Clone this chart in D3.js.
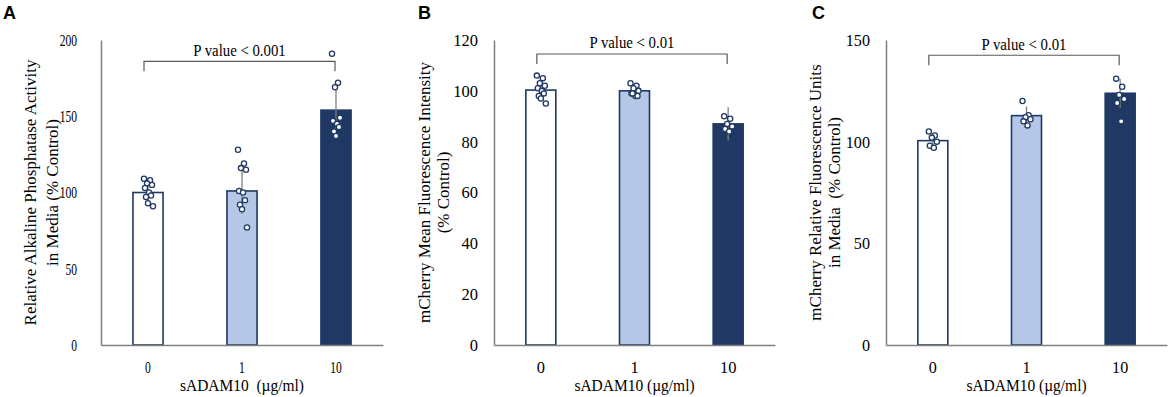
<!DOCTYPE html>
<html>
<head>
<meta charset="utf-8">
<script src="https://cdn.jsdelivr.net/npm/d3@7"></script>
<style>
  body { margin: 0; background: #fff; }
  text { white-space: pre; }
</style>
</head>
<body>
<div id="chart"></div>
<script>
// categories (sADAM10 dose)
const doses = ["0", "1", "10"];

// A: alkaline phosphatase
const meanA = [100, 101, 154];
const sdA = [6, 15, 18];
const ptsA = [
    [109, 108, 106, 105, 103, 100, 98, 97, 93, 91],
    [128, 119, 116, 115, 101, 100, 95, 92, 89, 77],
    [191, 172, 169, 149, 147, 145, 143, 140, 137]
];
const ticksA = [0, 50, 100, 150, 200];

// B: mCherry MFI
const meanB = [100.3, 100, 87];
const sdB = [4, 2, 6.5];
const ptsB = [
    [106, 105, 103, 102, 101, 100, 99, 98, 97, 95],
    [103, 102, 101, 100, 99, 98, 98, 99],
    [90, 89, 87, 86, 85, 84]
];
const ticksB = [0, 20, 40, 60, 80, 100, 120];

// C: mCherry RFU in media
const meanC = [100.5, 112.8, 123.8];
const sdC = [3, 4.5, 7];
const ptsC = [
    [105, 103, 102, 100, 98, 97],
    [120, 113, 112, 111, 110, 108],
    [131, 127, 123, 121, 119, 110]
];
const ticksC = [0, 50, 100, 150];

const pLabels = ["P value < 0.001", "P value < 0.01", "P value < 0.01"];

const navy = "#1f3864";
const fills = ["#ffffff", "#b4c7e7", "#203864"];
const serif = "'Liberation Serif', 'Times New Roman', serif";

const W = 1169, H = 397;
const svg = d3.select("#chart").append("svg")
    .attr("width", W).attr("height", H)
    .style("font-family", serif);

// tsx = horizontal squeeze of tick labels (panel A's are narrower)
const panels = [
    { letter: "A", lx: 3, axisX: 101, axisEnd: 383, max: 200, ticks: ticksA, mean: meanA, sd: sdA, pts: ptsA,
      pad: 24, tsx: 0.68, bracket: 186, p: pLabels[0],
      title: ["Relative Alkaline Phosphatase Activity", "in Media (% Control)"], tx: [36, 58],
      xlab: "sADAM10  (\u00b5g/ml)" },
    { letter: "B", lx: 418, axisX: 494, axisEnd: 775, max: 120, ticks: ticksB, mean: meanB, sd: sdB, pts: ptsB,
      pad: 16, tsx: 0.97, bracket: 114.5, p: pLabels[1],
      title: ["mCherry Mean Fluorescence Intensity", "(% Control)"], tx: [430, 449],
      xlab: "sADAM10 (\u00b5g/ml)" },
    { letter: "C", lx: 812, axisX: 886, axisEnd: 1167, max: 150, ticks: ticksC, mean: meanC, sd: sdC, pts: ptsC,
      pad: 16, tsx: 0.95, bracket: 142.5, p: pLabels[2],
      title: ["mCherry Relative Fluorescence Units", "in Media  (% Control)"], tx: [821, 840],
      xlab: "sADAM10 (\u00b5g/ml)" }
];

const yTop = 40, yBottom = 345;

panels.forEach(p => {
    const g = svg.append("g");

    const x = d3.scaleBand().domain(doses)
        .range([p.axisX, p.axisEnd])
        .paddingInner(0.68).paddingOuter(0.34);
    const y = d3.scaleLinear().domain([0, p.max]).range([yBottom, yTop]);
    const mid = i => x(doses[i]) + x.bandwidth() / 2;

    // panel letter
    g.append("text")
        .attr("x", p.lx).attr("y", 19)
        .style("font-family", "'Liberation Sans', Arial, sans-serif")
        .style("font-weight", "bold")
        .style("font-size", "18px")
        .text(p.letter);

    // bars
    g.selectAll("rect.bar")
        .data(p.mean)
        .join("rect")
        .attr("class", "bar")
        .attr("x", (d, i) => x(doses[i]))
        .attr("width", x.bandwidth())
        .attr("y", d => y(d))
        .attr("height", d => yBottom - y(d))
        .attr("fill", (d, i) => fills[i])
        .attr("stroke", navy)
        .attr("stroke-width", 1.6);

    // error bars
    g.selectAll("line.err")
        .data(p.mean)
        .join("line")
        .attr("class", "err")
        .attr("x1", (d, i) => mid(i))
        .attr("x2", (d, i) => mid(i))
        .attr("y1", (d, i) => y(d - p.sd[i]))
        .attr("y2", (d, i) => y(d + p.sd[i]))
        .attr("stroke", "#808080")
        .attr("stroke-width", 1.3);

    // individual points, small deterministic jitter
    const jit = [-4, 2, -1, 4, -3, 1, 3, -2, 0, 5, -5];
    p.pts.forEach((arr, gi) => {
        g.selectAll(null)
            .data(arr)
            .join("circle")
            .attr("cx", (d, i) => mid(gi) + jit[i % jit.length])
            .attr("cy", d => y(d))
            .attr("r", 2.6)
            .attr("fill", "#fff")
            .attr("stroke", navy)
            .attr("stroke-width", 1.3);
    });

    // axes
    const yAxis = d3.axisLeft(y).tickValues(p.ticks).tickSize(0).tickPadding(p.pad);
    const ya = g.append("g").attr("transform", `translate(${p.axisX},0)`).call(yAxis)
        .attr("font-family", serif).attr("font-size", 17);
    ya.select(".domain").attr("stroke", "#808080").attr("stroke-width", 1.5);
    ya.selectAll("text")
        .attr("fill", "#000")
        .attr("x", -p.pad / p.tsx)
        .attr("transform", `scale(${p.tsx},1)`);

    const xAxis = d3.axisBottom(x).tickSize(0).tickPadding(16);
    const xa = g.append("g").attr("transform", `translate(0,${yBottom})`).call(xAxis)
        .attr("font-family", serif).attr("font-size", 17);
    xa.select(".domain").attr("stroke", "#808080").attr("stroke-width", 1.5);
    xa.selectAll("text")
        .attr("fill", "#000")
        .attr("transform", `scale(${p.tsx},1)`);

    // x title
    g.append("text")
        .attr("transform", `translate(${mid(1)},391) scale(0.91,1)`)
        .attr("text-anchor", "middle")
        .style("font-size", "17px")
        .text(p.xlab);

    // y title (two lines)
    p.title.forEach((t, i) => {
        g.append("text")
            .attr("transform", `translate(${p.tx[i]},${(yTop + yBottom) / 2}) rotate(-90)`)
            .attr("text-anchor", "middle")
            .style("font-size", "17px")
            .text(t);
    });

    // significance bracket
    const bx0 = mid(0) - 4;
    const bx1 = mid(2) - 1;
    const by = y(p.bracket);
    g.append("path")
        .attr("d", `M${bx0},${by + 10}V${by}H${bx1}V${by + 10}`)
        .attr("fill", "none")
        .attr("stroke", "#595959")
        .attr("stroke-width", 1.2);
    g.append("text")
        .attr("transform", `translate(${(bx0 + bx1) / 2},${by - 5.5}) scale(0.87,1)`)
        .attr("text-anchor", "middle")
        .style("font-size", "17px")
        .text(p.p);
});
</script>
</body>
</html>
